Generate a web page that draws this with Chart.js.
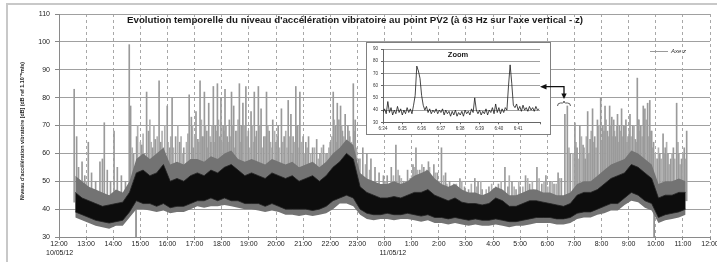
<!DOCTYPE html>
<html><head><meta charset="utf-8">
<script src="https://cdn.jsdelivr.net/npm/chart.js@4.4.0/dist/chart.umd.min.js"></script>
<style>
html,body{margin:0;padding:0;background:#fff;width:717px;height:262px;overflow:hidden}
#wrap{position:relative;width:717px;height:262px}
#frame{position:absolute;left:6px;top:3px;width:720px;height:270px;border-left:2px solid #c8c8c8;border-top:2px solid #c8c8c8}
#main{position:absolute;left:0;top:0}
#inset{position:absolute;left:366px;top:42px;width:183px;height:91px;border:1px solid #808080;background:#fff}
#inset canvas{display:block}
#ann{position:absolute;left:0;top:0;pointer-events:none}
</style></head>
<body>
<div id="wrap">
  <div id="frame"></div>
  <canvas id="main" width="717" height="262"></canvas>
  <div id="inset"><canvas id="zoomCanvas" width="183" height="91"></canvas></div>
  <svg id="ann" width="717" height="262" xmlns="http://www.w3.org/2000/svg">
    <path d="M545 86.7 H564 V95" fill="none" stroke="#111" stroke-width="1.3"/>
    <polygon points="540,86.7 546.5,84 546.5,89.4" fill="#111"/>
    <polygon points="564,99 561.3,93.5 566.7,93.5" fill="#111"/>
    <path d="M557.5 106 Q557.5 103 560.5 103 L562.5 103 Q564 103 564 101 Q564 103 565.5 103 L567.5 103 Q570.5 103 570.5 106" fill="none" stroke="#333" stroke-width="0.8"/>
  </svg>
</div>
<script>
// ---------- data ----------
const hourLabels = ['12:00','13:00','14:00','15:00','16:00','17:00','18:00','19:00','20:00','21:00','22:00','23:00',
                    '0:00','1:00','2:00','3:00','4:00','5:00','6:00','7:00','8:00','9:00','10:00','11:00','12:00'];
const dateLabels = ['10/05/12','11/05/12'];
const seriesName = 'Axe z';
const chartTitle = "Evolution temporelle du niveau d'accélération vibratoire au point PV2 (à 63 Hz sur l'axe vertical - z)";
const yTitle = "Niveau d'accélération vibratoire [dB] (dB ref 1.10\u207B\u2076m/s)";

// envelope of the dense signal band, one sample every 15 min from 12:36 (hours after 12:00)
const bandStartHour = 0.6;
const bandStepHours = 0.25;
const bandLow = [39,38,37,36,35.5,35,35.5,36,39,43,
                 42,42,41,42,40.5,41,41,42,43,43,
                 44,43,44,43,43,42,42,42,41,42,
                 41,40,40,40,40,39.5,40,41,43,44,
                 45,44,40,38.5,38,38,38.5,38,38,38.5,
                 38,37.5,38,37,37,36.5,37,36.5,36,36.5,
                 36,36,36.5,36,35.5,35.5,36,36.5,37,37,
                 37,36.5,36.5,37,38.5,39,39,40,41,42,
                 42,44,46,45,43,42,37,38,38.5,39,40];
const bandHigh = [46,44,43,42,41,41.5,42,42.5,46,53,
                  54,52,53,56,50,51,50,52,53,52,
                  54,53,55,56,54,52,53,52,51,53,
                  52,51,52,50,51,52,50,52,55,57,
                  60,58,48,46,45,44,44,44.5,44,45,
                  46,46,47,45,44,43,44,42.5,42,42,
                  41.5,42,44,43,41,41,42,43,43,42.5,
                  42,41.5,41,42,45,46,46,47,49,51,
                  52,53,56,55,53,51,44,45,45,46,46];
// lighter fringe of the band
const fuzzLow = [37,36,35,34,33.5,33,34,34,37,40,
                 40,39.5,39,39.5,38.5,39,39,40,41,40.5,
                 41,41,41.5,41,40.5,40,40,39.5,39,39.5,
                 39,38,38,37.5,38,37.5,38,38.5,40,42,
                 42,41,38,36.5,36,36.5,36.5,36,36.5,36.5,
                 36,35.5,36,35,35,34.5,35,34.5,34,34.5,
                 34,34,34.5,34,33.5,34,34,34.5,35,35,
                 35,34.5,34.5,35,36.5,37,37,38,38.5,39.5,
                 39.5,41.5,43,42.5,40.5,39.5,35,36,36.5,37,38];
const fuzzHigh = [52,50,48,47,46,45,47,46,50,58,
                  60,58,60,62,56,57,56,58,58,57,
                  59,58,60,61,58,57,58,57,56,58,
                  57,56,57,55,56,57,55,57,60,62,
                  65,63,53,51,50,49,49,50,49,50,
                  52,53,54,51,49,48,49,47,46,46,
                  45,46,48,47,45,45,46,47,47,46,
                  46,45,45,46,49,50,50,52,54,56,
                  57,58,61,60,58,56,49,50,50,51,50];

// tall isolated peaks (hours after 12:00, dB)
const spikeHours = [0.56,0.65,0.72,0.85,0.95,1.08,1.2,1.35,1.51,1.6,
  1.67,1.78,1.9,2.03,2.15,2.3,2.45,2.59,2.64,2.75,
  2.86,2.95,3.05,3.15,3.23,3.3,3.45,3.55,3.69,3.75,
  3.85,3.99,4.08,4.17,4.3,4.45,4.6,4.8,4.88,4.95,
  5.05,5.12,5.2,5.28,5.36,5.45,5.52,5.6,5.69,5.76,
  5.84,5.92,5.97,6.05,6.12,6.2,6.28,6.36,6.44,6.52,
  6.65,6.72,6.78,6.89,6.98,7.08,7.2,7.28,7.35,7.45,
  7.55,7.65,7.75,7.88,8.0,8.08,8.2,8.3,8.45,8.55,
  8.63,8.73,8.8,8.88,9.0,9.1,9.2,9.35,9.5,9.62,
  9.75,9.88,10.0,10.11,10.2,10.26,10.32,10.38,10.45,10.55,
  10.65,10.72,10.85,10.92,11.05,11.2,11.35,11.5,11.65,11.8,
  11.96,12.1,12.25,12.42,12.55,12.7,12.85,12.95,13.05,13.16,
  13.3,13.45,13.55,13.62,13.7,13.82,13.95,14.1,14.25,14.4,
  14.55,14.78,14.95,15.1,15.33,15.45,15.6,15.85,16.0,16.2,
  16.44,16.55,16.7,16.85,17.0,17.2,17.35,17.5,17.62,17.8,
  17.95,18.1,18.25,18.4,18.52,18.65,18.74,18.85,19.02,19.1,
  19.2,19.32,19.4,19.49,19.58,19.67,19.75,19.85,19.97,20.05,
  20.13,20.22,20.3,20.38,20.45,20.52,20.59,20.66,20.74,20.82,
  20.9,20.98,21.05,21.15,21.25,21.32,21.38,21.45,21.54,21.6,
  21.7,21.78,21.85,21.92,22.05,22.15,22.27,22.35,22.45,22.55,
  22.65,22.77,22.85,22.95,23.05,23.14];
const spikePeaks = [83,66,55,57,52,64,53,50,57,58,
  71,54,50,68,55,52,50,99,77,60,
  66,58,63,60,82,68,62,65,86,64,
  62,77,62,80,66,64,62,81,73,62,
  75,65,86,66,82,68,78,64,84,70,
  85,66,80,70,83,66,72,82,77,68,
  85,70,78,84,68,75,82,68,84,76,
  66,82,68,72,64,70,76,66,79,74,
  66,84,70,82,66,64,66,62,65,60,
  63,60,64,82,70,78,72,77,68,74,
  70,66,85,72,58,62,60,58,55,53,
  52,52,55,63,52,50,54,51,56,62,
  54,55,54,57,52,56,53,62,53,50,
  49,51,48,47,51,50,47,48,47,49,
  55,48,50,47,48,52,49,47,55,49,
  52,50,49,53,51,74,77,60,71,62,
  70,63,58,75,65,76,66,72,80,70,
  77,68,77,73,72,66,74,70,76,70,
  72,66,74,70,65,87,72,70,77,76,
  78,79,68,64,58,60,67,62,60,58,
  62,78,60,58,62,68];
// smaller peaks forming the grey haze above the band
const minorSpikeHours = [2.7,2.9,3.0,3.1,3.35,3.4,3.5,3.62,3.8,3.9,
  4.02,4.12,4.22,4.38,4.5,4.55,4.7,4.75,4.92,5.0,
  5.15,5.25,5.32,5.4,5.48,5.57,5.64,5.72,5.8,5.88,
  6.0,6.08,6.16,6.24,6.32,6.4,6.48,6.57,6.6,6.7,
  6.83,6.93,7.02,7.12,7.16,7.24,7.4,7.5,7.6,7.7,
  7.8,7.84,7.95,8.04,8.13,8.25,8.36,8.4,8.5,8.6,
  8.68,8.77,8.85,8.94,9.05,9.15,9.28,9.42,9.56,9.68,
  9.82,9.95,10.06,10.15,10.23,10.42,10.5,10.6,10.7,10.78,
  10.88,10.97,11.1,11.3,11.45,
  12.05,12.33,12.5,12.62,12.78,13.0,13.1,13.22,13.38,13.5,
  13.66,13.75,13.88,14.02,14.18,14.3,14.48,14.65,14.85,15.2,
  15.4,15.55,15.75,15.95,16.1,16.3,16.6,16.78,16.95,17.1,
  17.28,17.45,17.7,17.88,18.02,18.18,18.33,18.45,
  18.8,18.95,19.06,19.15,19.26,19.36,19.44,19.53,19.62,19.7,
  19.8,19.9,20.0,20.09,20.17,20.26,20.34,20.42,20.48,20.56,
  20.62,20.7,20.78,20.86,20.94,21.02,21.1,21.2,21.28,21.35,
  21.42,21.5,21.57,21.65,21.74,21.82,21.88,21.98,22.1,22.2,
  22.32,22.4,22.5,22.6,22.7,22.82,22.9,23.0,23.1];
const minorSpikePeaks = [62,70,64,67,72,64,70,66,68,70,
  64,66,62,70,66,60,64,67,70,66,
  64,72,66,70,62,66,70,64,68,72,
  64,68,70,64,66,70,62,68,72,64,
  70,66,62,70,64,66,70,62,66,70,
  64,62,68,66,62,64,68,62,66,60,
  64,70,62,64,60,62,60,62,58,62,
  60,62,66,72,64,70,66,62,68,64,
  68,62,58,56,54,
  50,52,54,51,49,52,55,54,56,52,
  55,51,53,50,52,49,48,49,50,49,
  48,50,47,49,48,50,52,48,50,48,
  51,50,51,50,48,50,49,51,
  62,60,64,58,66,62,66,60,68,64,
  62,70,64,68,72,66,70,66,68,70,
  64,68,66,70,64,68,66,70,64,72,
  68,66,70,72,66,68,62,60,62,58,
  60,64,56,60,58,64,56,60,58];
// signal drop-outs
const dropoutHours = [2.84, 21.94];
const dropoutLevels = [30, 30];

// zoom window 6:34 - 6:42, one sample every 5 s
const zoomTickLabels = ['6:34','6:35','6:36','6:37','6:38','6:39','6:40','6:41'];
const zoomStepSeconds = 5;
const zoomLevels = [38,41,37,47,38,42,36,40,37,43,
  38,41,36,40,37,42,38,41,37,44,
  52,76,72,66,52,44,40,43,38,41,
  37,40,38,41,37,40,38,41,36,40,
  37,39,35,39,36,40,35,38,36,39,
  35,40,37,39,36,41,38,50,40,37,
  40,36,39,37,41,36,40,38,42,37,
  45,38,42,37,41,38,42,40,60,77,
  62,44,42,45,40,43,39,44,40,42,
  39,43,40,42,39,43,40,41];

// ---------- build ----------
Chart.defaults.font.family = "'Liberation Sans', Arial, sans-serif";
Chart.defaults.color = '#222';

const bandSeries = arr => arr.map((v, i) => ({x: bandStartHour + i * bandStepHours, y: v}));
const bandIndex = h => Math.min(bandLow.length - 1, Math.max(0, Math.round((h - bandStartHour) / bandStepHours)));
const bandMid = h => { const k = bandIndex(h); return (bandLow[k] + bandHigh[k]) / 2; };
const peakBars = (hours, peaks) => {
  const out = [];
  const m = Math.min(hours.length, peaks.length);
  for (let i = 0; i < m; i++) out.push({x: hours[i], y: [bandMid(hours[i]), peaks[i]]});
  return out;
};
const dropData = dropoutHours.map((h, i) => ({x: h, y: [dropoutLevels[i], bandMid(h)]}));

const decor = {
  id: 'decor',
  afterDraw(chart) {
    const ctx = chart.ctx;
    ctx.save();
    ctx.fillStyle = '#1a1a1a';
    ctx.font = "bold 9.8px 'Liberation Sans', Arial, sans-serif";
    ctx.textAlign = 'center'; ctx.textBaseline = 'middle';
    ctx.fillText(chartTitle, 355, 20.5, 456);
    ctx.save();
    ctx.translate(22, 131); ctx.rotate(-Math.PI / 2);
    ctx.font = "bold 5.5px 'Liberation Sans', Arial, sans-serif";
    ctx.fillStyle = '#222';
    ctx.fillText(yTitle, 0, 0, 138);
    ctx.restore();
    ctx.font = "7px 'Liberation Sans', Arial, sans-serif";
    ctx.textAlign = 'left'; ctx.fillStyle = '#222';
    const xs = chart.scales.x;
    ctx.fillText(dateLabels[0], xs.getPixelForValue(0) - 13, 253.5);
    ctx.fillText(dateLabels[1], xs.getPixelForValue(12) - 5, 253.5);
    ctx.strokeStyle = '#9a9a9a'; ctx.lineWidth = 1;
    ctx.beginPath(); ctx.moveTo(650, 51.5); ctx.lineTo(668, 51.5); ctx.stroke();
    ctx.font = "italic 6px 'Liberation Sans', Arial, sans-serif";
    ctx.fillStyle = '#333';
    ctx.fillText(seriesName, 671, 51.5);
    ctx.restore();
  }
};

new Chart(document.getElementById('main'), {
  type: 'line',
  data: { datasets: [
    {label: 'fuzzLow', data: bandSeries(fuzzLow), borderColor: '#5a5a5a', borderWidth: 0, pointRadius: 0, fill: false, order: 1},
    {label: 'fuzz', data: bandSeries(fuzzHigh), borderColor: '#7a7a7a', borderWidth: 0, pointRadius: 0, fill: {target: 0}, backgroundColor: '#737373', order: 1},
    {label: 'low', data: bandSeries(bandLow), borderColor: '#222', borderWidth: 0.8, pointRadius: 0, fill: false, order: 0},
    {label: seriesName, data: bandSeries(bandHigh), borderColor: '#222', borderWidth: 0.8, pointRadius: 0, fill: {target: 2}, backgroundColor: '#0d0d0d', order: 0},
    {type: 'bar', label: 'minor', data: peakBars(minorSpikeHours, minorSpikePeaks), backgroundColor: '#b0b0b0', barThickness: 1, grouped: false, order: 3},
    {type: 'bar', label: 'peaks', data: peakBars(spikeHours, spikePeaks), backgroundColor: '#9a9a9a', barThickness: 1, grouped: false, order: 2},
    {type: 'bar', label: 'drop', data: dropData, backgroundColor: '#8a8a8a', barThickness: 1, grouped: false, order: 2}
  ]},
  options: {
    responsive: false, animation: false,
    layout: {padding: {top: 14, right: 7, left: 0, bottom: 0}},
    plugins: {legend: {display: false}, tooltip: {enabled: false}},
    scales: {
      x: {
        type: 'linear', min: 0, max: 24, offset: false,
        afterFit(s) { s.height = 25; s.paddingLeft = 0; s.paddingRight = 0; },
        ticks: {stepSize: 1, autoSkip: false, maxRotation: 0, padding: 0, font: {size: 7}, color: '#222',
                callback: v => hourLabels[Math.round(v)]},
        grid: {color: '#a8a8a8', lineWidth: 1, tickLength: 3, tickColor: '#888', offset: false},
        border: {dash: [3, 3], color: '#8a8a8a', width: 1}
      },
      y: {
        min: 30, max: 110, beginAtZero: false,
        afterFit(s) { s.width = 59; s.paddingTop = 0; s.paddingBottom = 0; },
        ticks: {stepSize: 10, padding: 5, font: {size: 7}, color: '#222'},
        grid: {color: '#a0a0a0', lineWidth: 1, tickLength: 4, tickColor: '#888'},
        border: {color: '#8a8a8a', width: 1}
      }
    }
  },
  plugins: [decor]
});

const zoomDecor = {
  id: 'zoomDecor',
  afterDraw(chart) {
    const ctx = chart.ctx;
    ctx.save();
    ctx.font = "bold 7.5px 'Liberation Sans', Arial, sans-serif";
    ctx.fillStyle = '#1a1a1a'; ctx.textAlign = 'center'; ctx.textBaseline = 'middle';
    ctx.fillText('Zoom', 91, 11.5);
    ctx.restore();
  }
};

new Chart(document.getElementById('zoomCanvas'), {
  type: 'line',
  data: {datasets: [{label: seriesName, data: zoomLevels.map((v, i) => ({x: i * zoomStepSeconds / 60, y: v})),
    borderColor: '#1a1a1a', borderWidth: 0.8, pointRadius: 0, fill: false}]},
  options: {
    responsive: false, animation: false,
    layout: {padding: {top: 6, right: 10, left: 0, bottom: 0}},
    plugins: {legend: {display: false}, tooltip: {enabled: false}},
    scales: {
      x: {
        type: 'linear', min: 0, max: 8.13,
        afterFit(s) { s.height = 11.7; s.paddingLeft = 0; s.paddingRight = 0; },
        ticks: {stepSize: 1, autoSkip: false, maxRotation: 0, padding: 2, font: {size: 4.5}, color: '#333',
                callback: v => zoomTickLabels[Math.round(v)] ?? ''},
        grid: {drawOnChartArea: false, tickLength: 2, tickColor: '#666'},
        border: {color: '#666', width: 1}
      },
      y: {
        min: 30, max: 90,
        afterFit(s) { s.width = 16; s.paddingTop = 0; s.paddingBottom = 0; },
        ticks: {stepSize: 10, padding: 3, font: {size: 4.5}, color: '#333'},
        grid: {color: '#a0a0a0', lineWidth: 1, tickLength: 2, tickColor: '#666'},
        border: {color: '#666', width: 1}
      }
    }
  },
  plugins: [zoomDecor]
});
</script>
</body></html>
